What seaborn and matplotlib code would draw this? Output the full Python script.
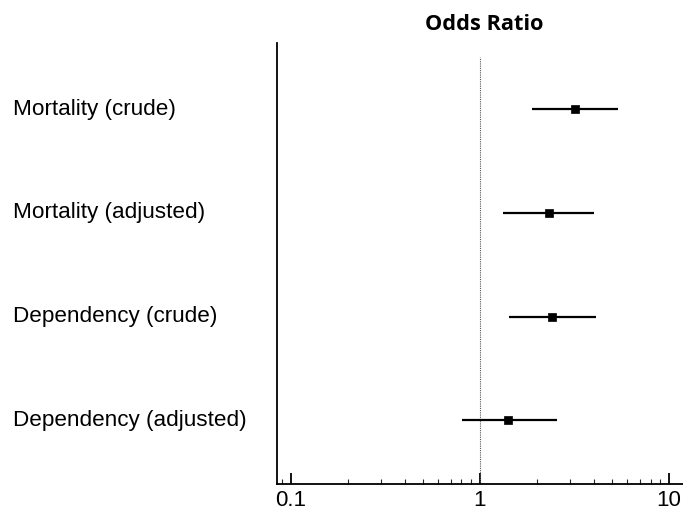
import matplotlib
matplotlib.use("Agg")
import matplotlib.pyplot as plt
import matplotlib.transforms as mtransforms
from matplotlib.ticker import LogLocator, NullFormatter, FixedLocator, FixedFormatter
import numpy as np
import pandas as pd
import seaborn as sns

# data
outcomes = ["Mortality (crude)", "Mortality (adjusted)", "Dependency (crude)", "Dependency (adjusted)"]
odds_ratio = [3.20, 2.31, 2.41, 1.41]
ci_low = [1.88, 1.32, 1.42, 0.81]
ci_high = [5.40, 4.00, 4.09, 2.55]
tick_values = [0.1, 1, 10]
tick_labels = ["0.1", "1", "10"]

df = pd.DataFrame({"outcome": outcomes, "or": odds_ratio, "lo": ci_low, "hi": ci_high})
df["pos"] = np.arange(len(df))

sns.set_style("white")
plt.rcParams["font.family"] = ["Liberation Sans", "DejaVu Sans"]

fig = plt.figure(figsize=(6.83, 5.12), dpi=100)
ax = fig.add_axes([0.405, 0.054, 0.595, 0.862])

ax.hlines(df["pos"], df["lo"], df["hi"], color="black", lw=1.6, zorder=2)
sns.scatterplot(data=df, x="or", y="pos", marker="s", s=38, color="black",
                edgecolor="black", linewidth=0.5, ax=ax, zorder=3, legend=False)

ax.set_xscale("log")
ax.set_xlim(10 ** -1.074, 10 ** 1.074)
ax.set_ylim(3.62, -0.64)
ax.axvline(1, ymin=0, ymax=0.968, color="#555555", lw=0.8, ls=(0, (1, 1)), zorder=1)

ax.xaxis.set_major_locator(FixedLocator(tick_values))
ax.xaxis.set_major_formatter(FixedFormatter(tick_labels))
ax.xaxis.set_minor_locator(LogLocator(base=10, subs=np.arange(2, 10)))
ax.xaxis.set_minor_formatter(NullFormatter())
ax.tick_params(axis="x", which="major", direction="in", length=8, width=1.3,
               labelsize=16, pad=4, bottom=True, colors="black")
ax.tick_params(axis="x", which="minor", direction="in", length=3.5, width=0.8, bottom=True)
ax.set_yticks([])
ax.set_xlabel("")
ax.set_ylabel("")

for side in ["top", "right"]:
    ax.spines[side].set_visible(False)
for side in ["left", "bottom"]:
    ax.spines[side].set_color("black")
    ax.spines[side].set_linewidth(1.3)

trans = mtransforms.blended_transform_factory(fig.transFigure, ax.transData)
for name, p in zip(df["outcome"], df["pos"]):
    ax.text(13 / 683, p, name, transform=trans, ha="left", va="center",
            fontsize=16.2, color="black", clip_on=False)

fig.text(484 / 683, 1 - 24 / 512, "Odds Ratio", ha="center", va="center",
         fontsize=15.7, fontweight="bold", color="black",
         family=["Open Sans", "DejaVu Sans"])

fig.savefig("out.png", dpi=100)
